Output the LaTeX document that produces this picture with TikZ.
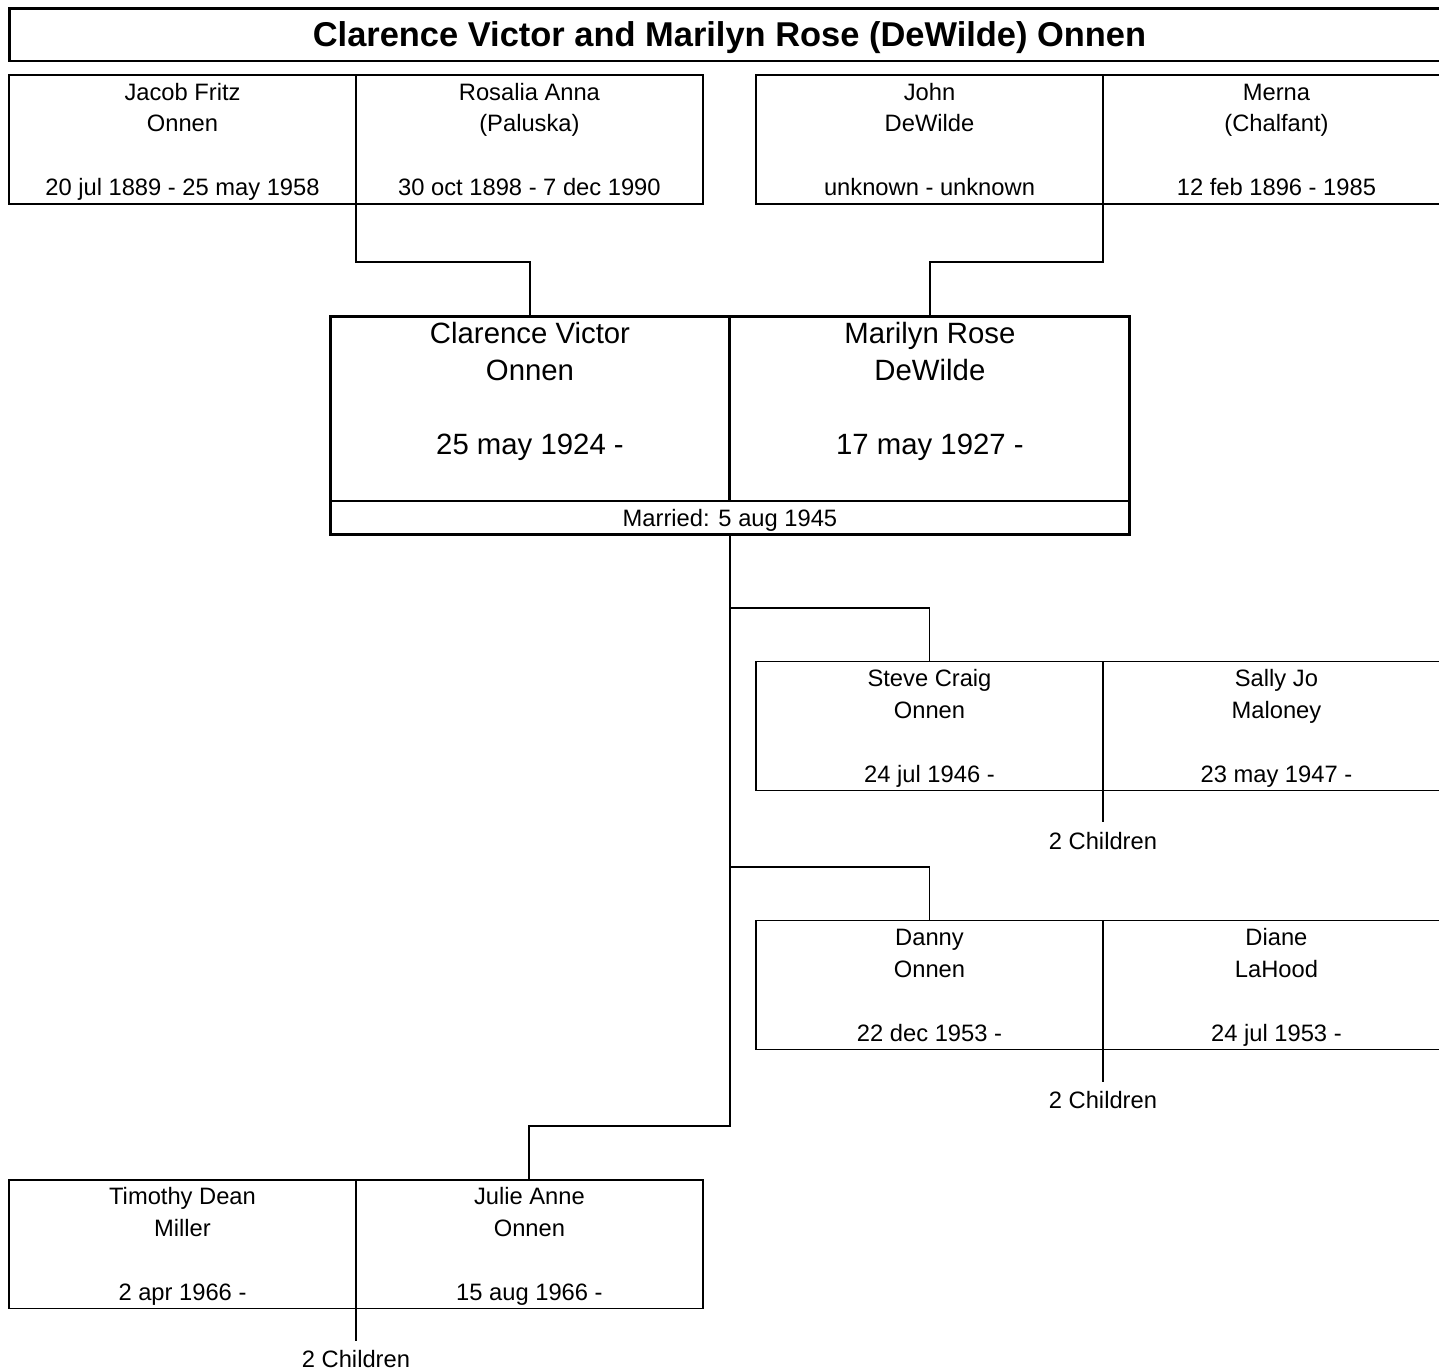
\documentclass[tikz,border=0pt]{standalone}
\usepackage{fontspec}
\setmainfont{Liberation Sans}
\usetikzlibrary{positioning,calc}
% name block: first names, surname, dates
\newcommand\gen[3]{\strut#1\\#2\\[18.1pt]#3\rule[-3.2pt]{0pt}{3.2pt}}
\newcommand\pair[3]{\strut#1\\#2\\[21pt]#3\rule[-25.3pt]{0pt}{25.3pt}}
\tikzset{
  banner/.style ={draw,line width=1.7pt,outer sep=0pt,minimum width=28.82cm,minimum height=1.06cm,
                  inner sep=0pt,text depth=0pt,font=\bfseries\fontsize{19.6}{23}\selectfont},
  person/.style ={draw,line width=1.1pt,outer sep=0pt,minimum width=6.94cm,minimum height=2.58cm,
                  inner sep=0pt,align=center,font=\fontsize{13.5}{18.1}\selectfont},
  couple/.style ={draw,line width=1.7pt,outer sep=0pt,minimum width=8cm,minimum height=3.7cm,
                  inner sep=0pt,align=center,font=\fontsize{16.7}{21}\selectfont},
  wed/.style    ={draw,line width=1.7pt,outer sep=0pt,minimum width=16cm,minimum height=0.68cm,
                  inner sep=0pt,text depth=0pt,font=\fontsize{13.5}{16}\selectfont},
  kids/.style   ={anchor=north,inner xsep=0pt,inner ysep=5.5pt,font=\fontsize{13.5}{16}\selectfont},
  link/.style   ={line width=1.1pt},
}

\begin{document}
\begin{tikzpicture}[x=0.02cm,y=-0.02cm]
  \clip (0,0) rectangle (1439,1370);
  \node[banner] (title) at (729.5,34.5) {Clarence Victor and Marilyn Rose (DeWilde) Onnen};

  % grandparents
  \node[person] (jacob) at (182.5,139.5) {\gen{Jacob Fritz}{Onnen}{20 jul 1889 - 25 may 1958}};
  \node[person] (rosalia) [right=0pt of jacob] {\gen{Rosalia Anna}{(Paluska)}{30 oct 1898 - 7 dec 1990}};
  \node[person] (john) at (929.5,139.5) {\gen{John}{DeWilde}{unknown - unknown}};
  \node[person] (merna) [right=0pt of john] {\gen{Merna}{(Chalfant)}{12 feb 1896 - 1985}};

  % couple
  \node[couple] (clarence) at (530,408.5) {\pair{Clarence Victor}{Onnen}{25 may 1924 -}};
  \node[couple] (marilyn) [right=0pt of clarence] {\pair{Marilyn Rose}{DeWilde}{17 may 1927 -}};
  \node[wed] (married) [below=0pt of clarence.south east] {Married: 5 aug 1945};

  \draw[link] (jacob.south east) -- ++(0,58) -| (clarence.north);
  \draw[link] (john.south east) -- ++(0,58) -| (marilyn.north);

  % children
  \node[person] (steve) at (929.5,726) {\gen{Steve Craig}{Onnen}{24 jul 1946 -}};
  \node[person] (sally) [right=0pt of steve] {\gen{Sally Jo}{Maloney}{23 may 1947 -}};
  \node[person] (danny) at (929.5,985) {\gen{Danny}{Onnen}{22 dec 1953 -}};
  \node[person] (diane) [right=0pt of danny] {\gen{Diane}{LaHood}{24 jul 1953 -}};
  \node[person] (timothy) at (182.5,1244) {\gen{Timothy Dean}{Miller}{2 apr 1966 -}};
  \node[person] (julie) [right=0pt of timothy] {\gen{Julie Anne}{Onnen}{15 aug 1966 -}};

  \draw[link] (married.south) |- ([yshift=1.08cm]steve.north) -- (steve.north);
  \draw[link] (married.south) |- ([yshift=1.08cm]danny.north) -- (danny.north);
  \draw[link] (married.south) |- ([yshift=1.08cm]julie.north) -- (julie.north);

  \node[kids] (stevekids) at ([yshift=-0.64cm]steve.south east) {2 Children};
  \node[kids] (dannykids) at ([yshift=-0.64cm]danny.south east) {2 Children};
  \node[kids] (julikids) at ([yshift=-0.64cm]timothy.south east) {2 Children};
  \draw[link] (steve.south east) -- (stevekids);
  \draw[link] (danny.south east) -- (dannykids);
  \draw[link] (timothy.south east) -- (julikids);
\end{tikzpicture}
\end{document}
